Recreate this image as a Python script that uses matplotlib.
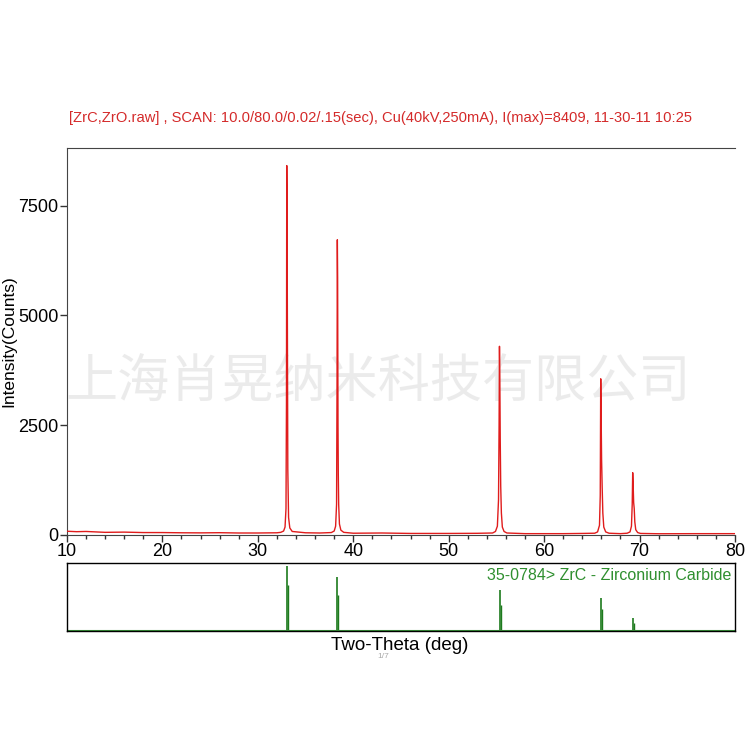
import matplotlib
matplotlib.use('Agg')
import matplotlib.pyplot as plt
from matplotlib.ticker import MultipleLocator

plt.rcParams['font.family'] = ['Liberation Sans', 'DejaVu Sans']

two_theta = [
    10.0, 11.0, 12.0, 14.0, 16.0, 18.0, 20.0, 22.0, 24.0, 26.0, 28.0, 30.0, 32.0,
    32.40, 32.70, 32.85, 32.95, 33.00, 33.03, 33.07, 33.10, 33.14, 33.22, 33.35, 33.60,
    35.0, 36.5, 37.7,
    38.00, 38.15, 38.25, 38.30, 38.33, 38.36, 38.40, 38.43, 38.47, 38.55, 38.70, 39.00,
    40.0, 43.0, 46.0, 50.0, 53.0, 54.6,
    54.90, 55.10, 55.22, 55.28, 55.32, 55.36, 55.40, 55.45, 55.52, 55.62, 55.80, 56.10,
    58.0, 62.0, 64.0, 65.3,
    65.60, 65.80, 65.88, 65.93, 65.97, 66.02, 66.08, 66.15, 66.25, 66.45, 66.80,
    68.0, 68.7,
    69.00, 69.15, 69.23, 69.28, 69.32, 69.38, 69.44, 69.50, 69.60, 69.80, 70.10,
    72.0, 76.0, 80.0,
]
counts = [
    85, 75, 80, 60, 65, 55, 55, 50, 48, 52, 45, 45, 50,
    60, 90, 180, 600, 3000, 8409, 7000, 4500, 1500, 400, 160, 80,
    50, 45, 55,
    90, 200, 700, 3500, 6720, 5850, 2500, 1400, 700, 250, 110, 60,
    40, 45, 35, 35, 38, 45,
    80, 200, 800, 2500, 4295, 3500, 2175, 1115, 500, 180, 80, 45,
    30, 30, 35, 40,
    70, 220, 900, 3555, 2800, 1720, 1100, 500, 180, 70, 40,
    30, 40,
    70, 200, 700, 1418, 1200, 740, 600, 300, 120, 55, 35,
    28, 30, 30,
]

# PDF card 35-0784 ZrC reference lines (relative intensity)
ref_pos = [33.04, 38.33, 55.33, 65.95, 69.29]
ref_int = [100, 82, 62, 51, 20]
ref_pos2 = [33.12, 38.42, 55.44, 66.08, 69.44]
ref_int2 = [70, 55, 40, 34, 12]

title = ('[ZrC,ZrO.raw] , SCAN: 10.0/80.0/0.02/.15(sec), Cu(40kV,250mA), '
         'I(max)=8409, 11-30-11 10:25')
ref_label = '35-0784> ZrC - Zirconium Carbide'
watermark = '上海肖晃纳米科技有限公司'

fig = plt.figure(figsize=(7.5, 7.5), dpi=100)
ax = fig.add_axes([0.0893, 0.2867, 0.8907, 0.516])
ax2 = fig.add_axes([0.0893, 0.1587, 0.8907, 0.0906])

ax.plot(two_theta, counts, color='#e01c1c', lw=1.0, zorder=3)
ax.set_xlim(10, 80)
ax.set_ylim(0, 8810)
ax.set_yticks([0, 2500, 5000, 7500])
ax.xaxis.set_major_locator(MultipleLocator(10))
ax.xaxis.set_minor_locator(MultipleLocator(2))
ax.tick_params(axis='both', which='major', labelsize=13, length=5,
               width=1, direction='out', pad=1, colors='#333333', labelcolor='black')
ax.tick_params(axis='x', which='minor', length=3, width=1, colors='#333333')
ax.set_ylabel('Intensity(Counts)', fontsize=12.5)
ax.yaxis.set_label_coords(-0.075, 0.5)
ax.spines['right'].set_visible(False)
for s in ['left', 'bottom', 'top']:
    ax.spines[s].set_color('#444444')

ax.text(0.507, 0.8427, title, transform=fig.transFigure, ha='center', va='center',
        fontsize=10.6, color='#d42a2a')

# faint watermark across the plot
ax.text(0.504, 0.49, watermark, transform=fig.transFigure, ha='center', va='center',
        fontsize=37.5, color='#dcdcdc', alpha=0.55,
        family=['Noto Sans CJK SC', 'DejaVu Sans'], clip_on=False, zorder=1)

# reference pattern panel
ax2.vlines(ref_pos, 0, ref_int, color='#1d7a1d', lw=1.2)
ax2.vlines(ref_pos2, 0, ref_int2, color='#1d7a1d', lw=1.0)
ax2.axhline(0, color='#3c9a3c', lw=1.5)
ax2.set_xlim(10, 80)
ax2.set_ylim(0, 104)
ax2.set_xticks([])
ax2.set_yticks([])
for s in ax2.spines.values():
    s.set_color('black')
    s.set_linewidth(1)
ax2.text(0.995, 0.93, ref_label, transform=ax2.transAxes, ha='right', va='top',
         fontsize=11.5, color='#2f8f2f')

fig.text(0.533, 0.14, 'Two-Theta (deg)', ha='center', va='center', fontsize=13.5)
fig.text(0.511, 0.124, '1/7', ha='center', va='center', fontsize=6, color='#aaaaaa')

plt.savefig('out.png', dpi=100)
